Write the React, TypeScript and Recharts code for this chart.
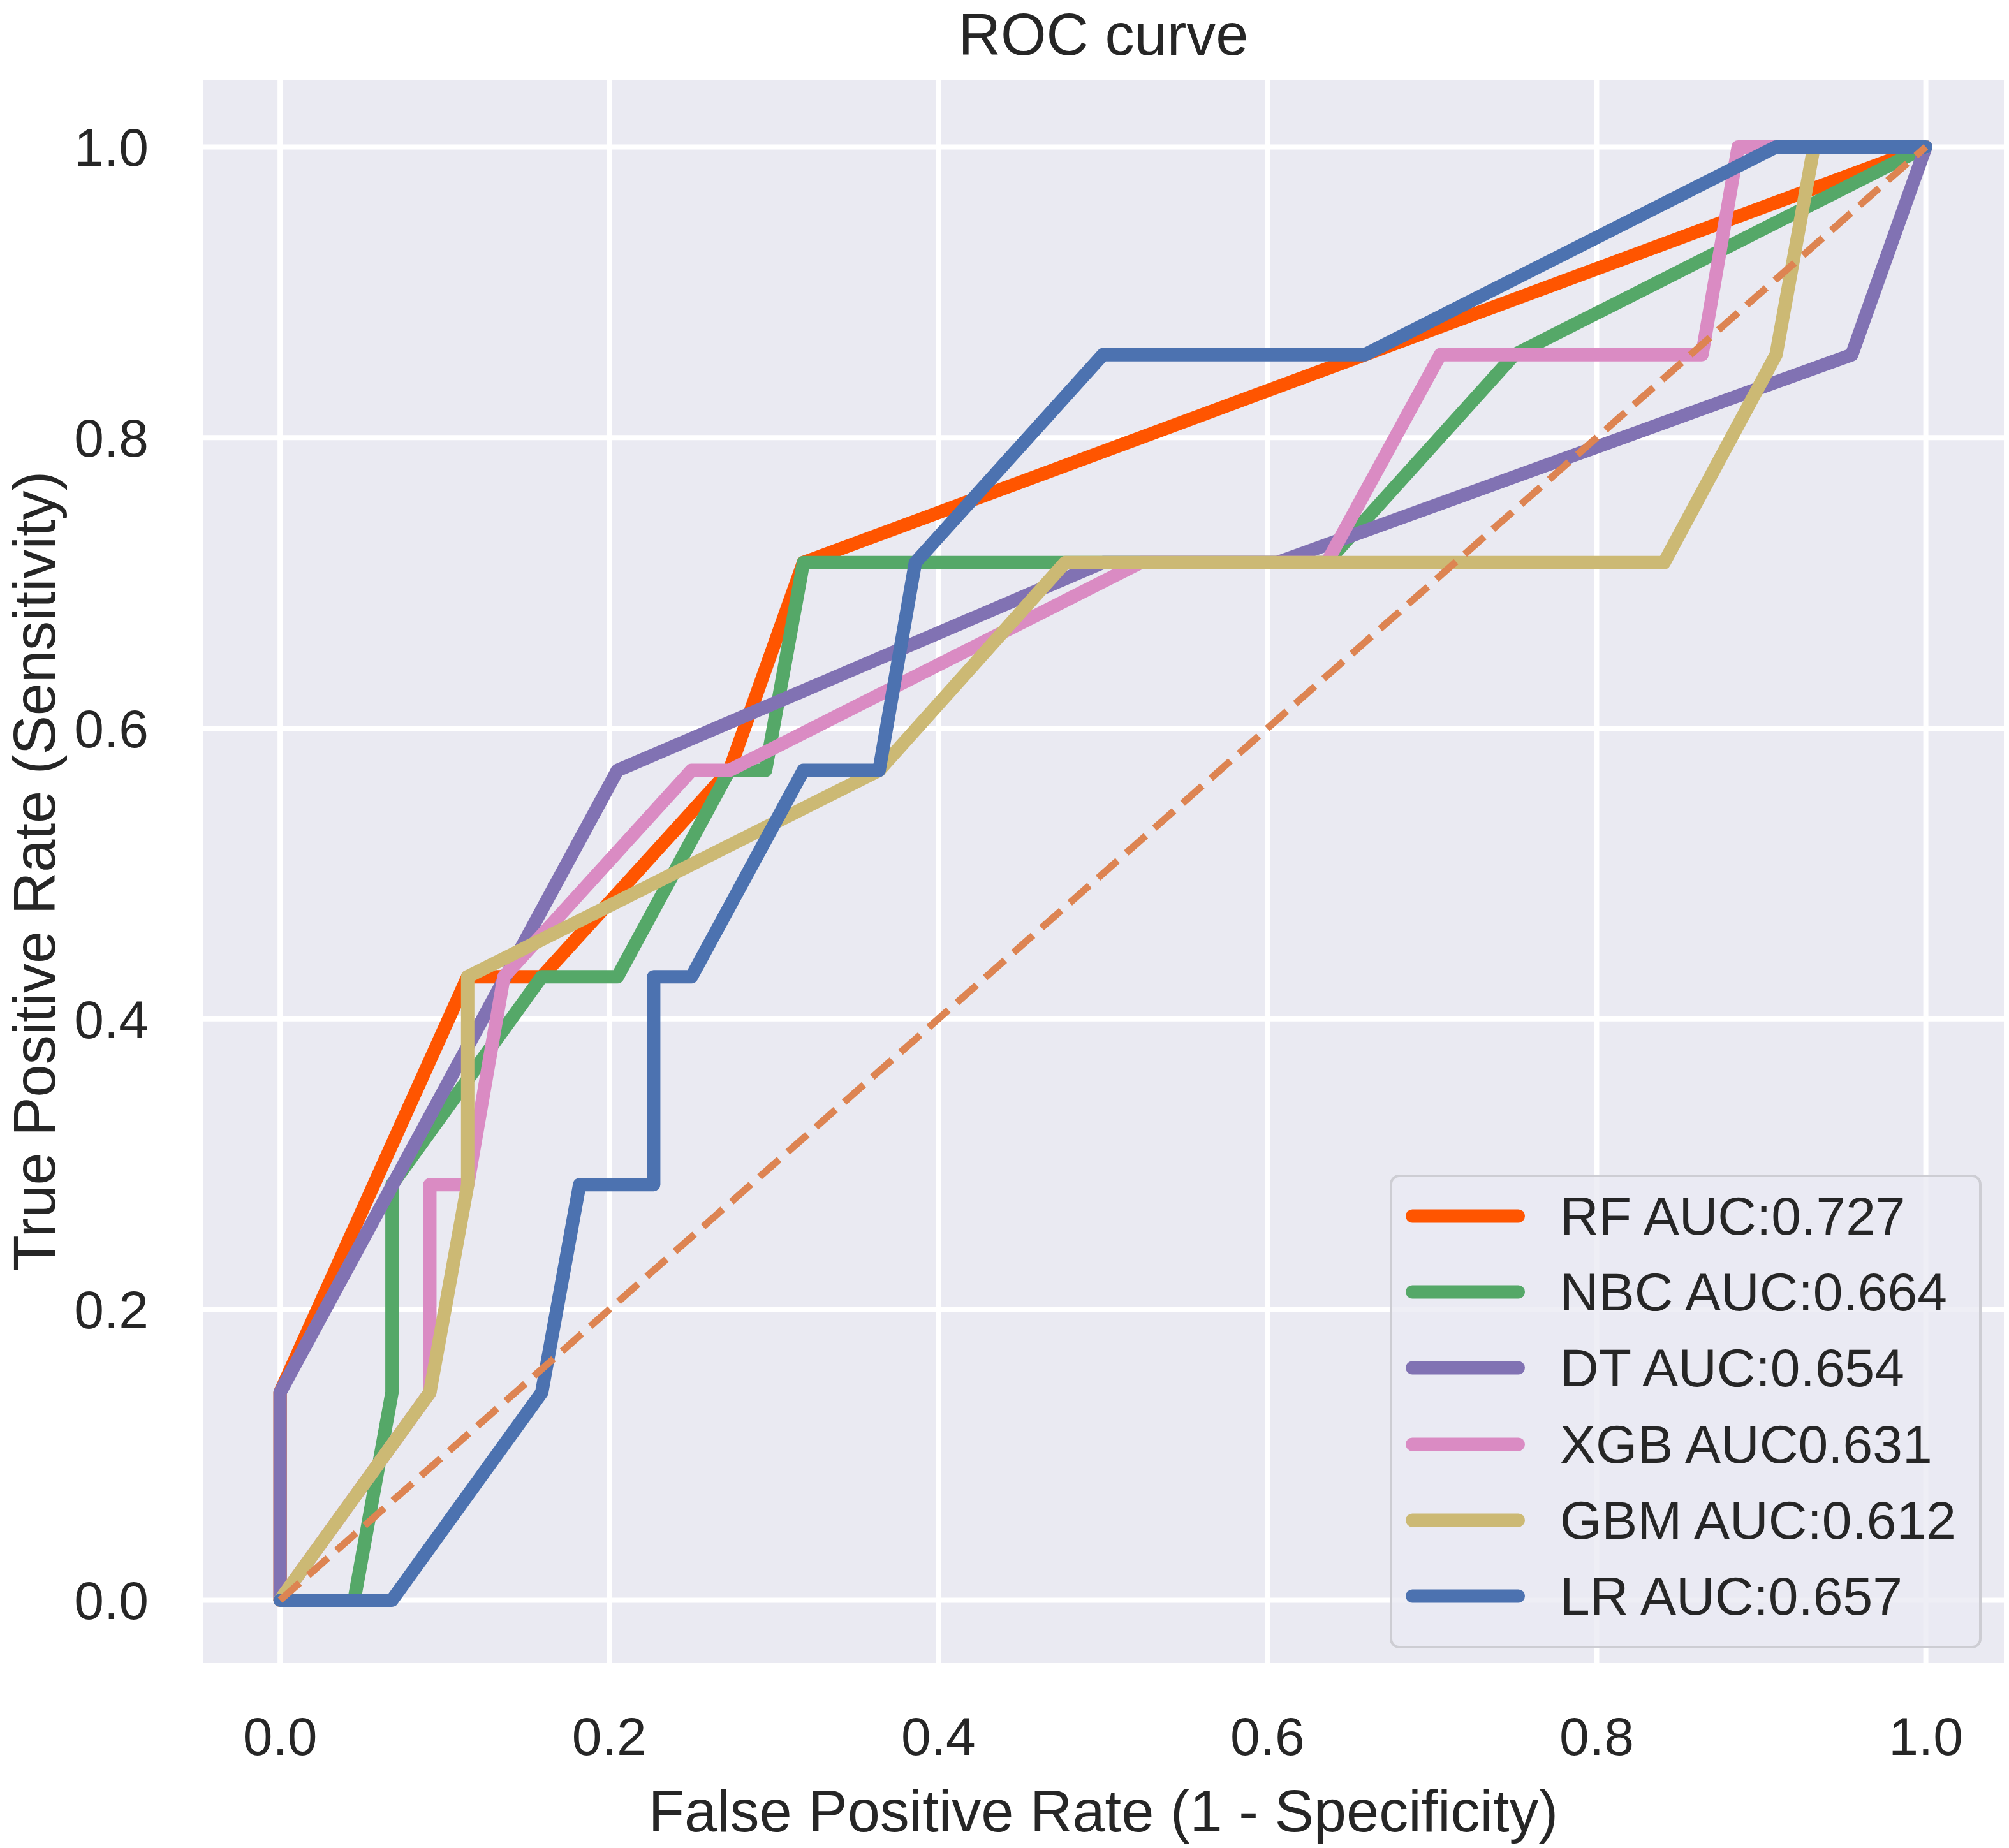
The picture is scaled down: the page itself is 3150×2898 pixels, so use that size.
import { CartesianGrid, Legend, Line, LineChart, XAxis, YAxis } from 'recharts'

const W = 3150
const H = 2898
const FONT = '"Liberation Sans", Arial, "DejaVu Sans", sans-serif'
const INK = '#262626'

// ROC points (FPR, TPR per model)
const rfFpr = [0, 0, 0.114, 0.159, 0.273, 0.318, 0.659, 1]
const rfTpr = [0, 0.143, 0.429, 0.429, 0.571, 0.714, 0.857, 1]

const nbcFpr = [0, 0.045, 0.068, 0.068, 0.159, 0.205, 0.273, 0.295, 0.318, 0.636, 0.75, 1]
const nbcTpr = [0, 0, 0.143, 0.286, 0.429, 0.429, 0.571, 0.571, 0.714, 0.714, 0.857, 1]

const dtFpr = [0, 0, 0.205, 0.5, 0.606, 0.955, 1]
const dtTpr = [0, 0.143, 0.571, 0.714, 0.714, 0.857, 1]

const xgbFpr = [0, 0.091, 0.091, 0.114, 0.136, 0.25, 0.273, 0.523, 0.636, 0.705, 0.864, 0.886, 1]
const xgbTpr = [0, 0.143, 0.286, 0.286, 0.429, 0.571, 0.571, 0.714, 0.714, 0.857, 0.857, 1, 1]

const gbmFpr = [0, 0.091, 0.114, 0.114, 0.364, 0.477, 0.841, 0.909, 0.932, 1]
const gbmTpr = [0, 0.143, 0.286, 0.429, 0.571, 0.714, 0.714, 0.857, 1, 1]

const lrFpr = [0, 0.068, 0.159, 0.182, 0.227, 0.227, 0.25, 0.318, 0.364, 0.386, 0.5, 0.659, 0.909, 1]
const lrTpr = [0, 0, 0.143, 0.286, 0.286, 0.429, 0.429, 0.571, 0.571, 0.714, 0.857, 0.857, 1, 1]

const chanceFpr = [0, 1]
const chanceTpr = [0, 1]

const modelNames = ['RF AUC:0.727', 'NBC AUC:0.664', 'DT AUC:0.654', 'XGB AUC0.631', 'GBM AUC:0.612', 'LR AUC:0.657']
const modelColors = ['#ff5500', '#55a868', '#8172b3', '#da8bc3', '#ccb974', '#4c72b0']
const axisTicks = [0, 0.2, 0.4, 0.6, 0.8, 1.0]

const toPoints = (fpr: number[], tpr: number[]) => fpr.map((fp, i) => ({ fpr: fp, tpr: tpr[i] }))

const modelPoints = [
  toPoints(rfFpr, rfTpr),
  toPoints(nbcFpr, nbcTpr),
  toPoints(dtFpr, dtTpr),
  toPoints(xgbFpr, xgbTpr),
  toPoints(gbmFpr, gbmTpr),
  toPoints(lrFpr, lrTpr),
]

function RocLegend({ payload }: any) {
  // keep plotting order (recharts sorts the payload by name)
  const items = (payload || [])
    .filter((p: any) => modelNames.includes(p.value))
    .sort((a: any, b: any) => modelNames.indexOf(a.value) - modelNames.indexOf(b.value))
  return (
    <div
      style={{
        boxSizing: 'border-box',
        position: 'relative',
        width: 928,
        height: 743,
        border: '4px solid #cdcdd3',
        borderRadius: 15,
        background: 'rgba(234,234,242,0.8)',
        fontFamily: FONT,
      }}
    >
      {items.map((entry: any, i: number) => (
        <div
          key={entry.value}
          style={{ position: 'absolute', left: 21, top: 1 + i * 119.2, height: 120, display: 'flex', alignItems: 'center' }}
        >
          <svg width={187} height={24}>
            <line x1={10.5} y1={12} x2={176.5} y2={12} stroke={entry.color} strokeWidth={21} strokeLinecap="round" />
          </svg>
          <span style={{ marginLeft: 55, fontSize: 84, lineHeight: '84px', color: INK, whiteSpace: 'nowrap' }}>{entry.value}</span>
        </div>
      ))}
    </div>
  )
}

export default function App() {
  const tick = { fill: INK, fontSize: 84, fontFamily: FONT }
  return (
    <div style={{ position: 'absolute', left: 0, top: 0, width: W, height: H, background: '#ffffff' }}>
      <LineChart width={W} height={H} margin={{ top: 121, right: 4, bottom: 0, left: 0 }}>
        <CartesianGrid fill="#eaeaf2" stroke="#ffffff" strokeWidth={8} />
        <XAxis
          dataKey="fpr"
          type="number"
          domain={[-0.0485, 1.049]}
          ticks={axisTicks}
          interval={0}
          tickFormatter={(v: number) => v.toFixed(1)}
          axisLine={false}
          tickLine={false}
          tickSize={0}
          tickMargin={80}
          height={286}
          tick={tick}
        />
        <YAxis
          type="number"
          domain={[-0.045, 1.048]}
          ticks={axisTicks}
          interval={0}
          tickFormatter={(v: number) => v.toFixed(1)}
          axisLine={false}
          tickLine={false}
          tickSize={0}
          tickMargin={81}
          width={314}
          tick={tick}
        />
        {modelPoints.map((pts, i) => (
          <Line
            key={modelNames[i]}
            name={modelNames[i]}
            data={pts}
            dataKey="tpr"
            type="linear"
            stroke={modelColors[i]}
            strokeWidth={21}
            strokeLinecap="round"
            strokeLinejoin="round"
            dot={false}
            activeDot={false}
            isAnimationActive={false}
          />
        ))}
        <Line
          name="chance"
          legendType="none"
          data={toPoints(chanceFpr, chanceTpr)}
          dataKey="tpr"
          type="linear"
          stroke="#dd8452"
          strokeWidth={11}
          strokeDasharray="41 18"
          dot={false}
          activeDot={false}
          isAnimationActive={false}
        />
        <Legend
          layout="vertical"
          align="center"
          verticalAlign="middle"
          content={<RocLegend />}
          wrapperStyle={{ left: 2179, top: 1842, width: 928, height: 743 }}
        />
        <text x={1730} y={86} textAnchor="middle" fontSize={92} fontFamily={FONT} fill={INK}>
          ROC curve
        </text>
        <text x={1730} y={2872} textAnchor="middle" fontSize={92} fontFamily={FONT} fill={INK}>
          False Positive Rate (1 - Specificity)
        </text>
        <text x={86} y={1366} textAnchor="middle" fontSize={92} fontFamily={FONT} fill={INK} transform="rotate(-90 86 1366)">
          True Positive Rate (Sensitivity)
        </text>
      </LineChart>
    </div>
  )
}
